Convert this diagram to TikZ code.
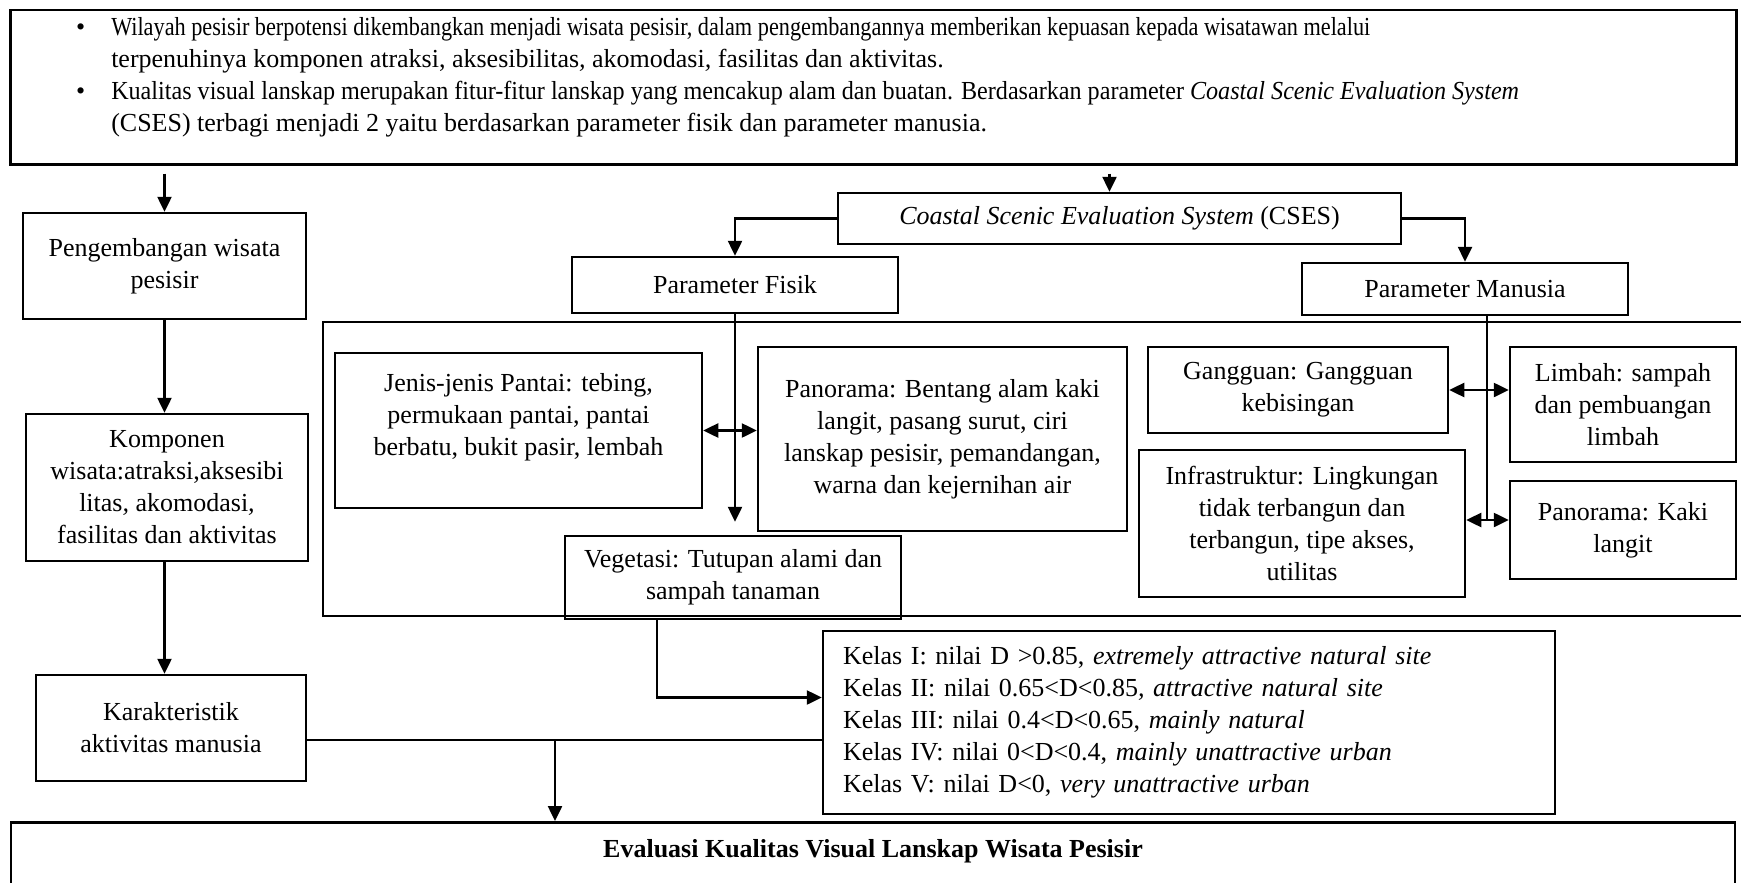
\documentclass[tikz,border=0pt]{standalone}
\usepackage{graphicx}
\usepackage{fontspec}
\setmainfont{Liberation Serif}
\usetikzlibrary{arrows.meta}

\tikzset{
  garis/.style={line width=2.5pt},
  kotak/.style={draw, garis, align=center, inner sep=0pt, font=\fontsize{26pt}{32pt}\selectfont},
  panah/.style={garis, -{Triangle[length=15pt,width=14pt]}},
  duapanah/.style={garis, {Triangle[length=15pt,width=14pt]}-{Triangle[length=15pt,width=14pt]}}
}

\begin{document}
\begin{tikzpicture}[x=1pt,y=-1pt]
  \useasboundingbox (0,0) rectangle (1741,883);

  % kotak latar belakang
  \node[kotak, anchor=north west, align=left, minimum width=1726pt, minimum height=154pt] (latar) at (9,9)
    {\begin{minipage}[t][140pt][t]{1726pt}
      \fontsize{26pt}{32pt}\selectfont\raggedright
      \begin{list}{\textbullet}{\setlength{\leftmargin}{91pt}\setlength{\labelwidth}{40pt}%
        \setlength{\labelsep}{26pt}\setlength{\rightmargin}{20pt}\setlength{\itemsep}{0pt}%
        \setlength{\topsep}{0pt}\setlength{\parsep}{0pt}\setlength{\partopsep}{0pt}}
      \item \scalebox{0.856}[1]{Wilayah pesisir berpotensi dikembangkan menjadi wisata pesisir, dalam pengembangannya memberikan kepuasan kepada wisatawan melalui}\\
        terpenuhinya komponen atraksi, aksesibilitas\textit{,} akomodasi\textit{,} fasilitas dan aktivitas.
      \item \scalebox{0.928}[1]{Kualitas visual lanskap merupakan fitur-fitur lanskap yang mencakup alam dan buatan. Berdasarkan parameter \textit{Coastal Scenic Evaluation System}}\\
        (CSES) terbagi menjadi 2 yaitu berdasarkan parameter fisik dan parameter manusia.
      \end{list}
    \end{minipage}};

  % kolom kiri
  \node[kotak, minimum width=283pt, minimum height=106pt] (pengembangan) at (164.5,266) {Pengembangan wisata\\pesisir};
  \node[kotak, minimum width=282pt, minimum height=147pt] (komponen) at (167,487.5) {Komponen\\wisata:atraksi,aksesibi\\litas\textit{,} akomodasi\textit{,}\\fasilitas dan aktivitas};
  \node[kotak, minimum width=270pt, minimum height=106pt] (karakteristik) at (171,728) {Karakteristik\\aktivitas manusia};

  % CSES
  \node[kotak, minimum width=563pt, minimum height=51pt] (cses) at (1119.5,218.5) {\textit{Coastal Scenic Evaluation System} (CSES)};
  \node[kotak, minimum width=326pt, minimum height=56pt] (fisik) at (735,285) {Parameter Fisik};
  \node[kotak, minimum width=326pt, minimum height=52pt] (manusia) at (1465,289) {Parameter Manusia};

  \draw[garis] (323,322) rectangle (1760,616); % kotak besar

  % parameter fisik
  \node[kotak, minimum width=367pt, minimum height=155pt] (jenis) at (518.5,430.5) {Jenis-jenis Pantai: tebing,\\permukaan pantai, pantai\\berbatu, bukit pasir, lembah\\\mbox{}};
  \node[kotak, minimum width=369pt, minimum height=184pt] (panorama) at (942.5,439) {Panorama: Bentang alam kaki\\langit, pasang surut, ciri\\lanskap pesisir, pemandangan,\\warna dan kejernihan air};
  \node[kotak, minimum width=336pt, minimum height=83pt] (vegetasi) at (733,577.5) {Vegetasi: Tutupan alami dan\\sampah tanaman};

  % parameter manusia
  \node[kotak, minimum width=300pt, minimum height=86pt] (gangguan) at (1298,390) {Gangguan: Gangguan\\kebisingan};
  \node[kotak, minimum width=226pt, minimum height=115pt] (limbah) at (1623,404.5) {Limbah: sampah\\dan pembuangan\\limbah};
  \node[kotak, minimum width=326pt, minimum height=147pt] (infra) at (1302,523.5) {Infrastruktur: Lingkungan\\tidak terbangun dan\\terbangun, tipe akses,\\utilitas};
  \node[kotak, minimum width=226pt, minimum height=98pt] (kaki) at (1623,530) {Panorama: Kaki\\langit};

  % kelas
  \node[kotak, align=left, text width=692pt, inner xsep=20pt, minimum height=183pt] (kelas) at (1189,722.5)
    {Kelas I: nilai D >0.85, \textit{extremely attractive natural site}\\
     Kelas II: nilai 0.65<D<0.85\textit{, attractive natural site}\\
     Kelas III: nilai 0.4<D<0.65, \textit{mainly natural}\\
     Kelas IV: nilai 0<D<0.4, \textit{mainly unattractive urban}\\
     Kelas V: nilai D<0, \textit{very unattractive urban}};

  \node[kotak, anchor=north, minimum width=1724pt, minimum height=80pt, text depth=28pt, font=\fontsize{26pt}{32pt}\selectfont\bfseries] (evaluasi) at (873,821)
    {Evaluasi Kualitas Visual Lanskap Wisata Pesisir};

  \coordinate (tengah) at (1487,520);
  \coordinate (simpang) at (555,740);

  % panah
  \draw[panah, shorten <=8pt] (latar.south -| pengembangan.north) -- (pengembangan.north);
  \draw[panah, shorten <=8pt] ([xshift=-10pt]latar.south -| cses.north) -- ([xshift=-10pt]cses.north);
  \draw[panah] (pengembangan.south) -- (pengembangan.south |- komponen.north);
  \draw[panah] (komponen.south -| pengembangan.south) -- (pengembangan.south |- karakteristik.north);
  \draw[panah] (cses.west) -| (fisik.north);
  \draw[panah] (cses.east) -| (manusia.north);
  \draw[panah, shorten >=13pt] (fisik.south) -- (fisik.south |- vegetasi.north);
  \draw[duapanah] (jenis.east) -- (jenis.east -| panorama.west);
  \draw[garis] (manusia.south -| tengah) -- (tengah);
  \draw[duapanah] (gangguan.east) -- (gangguan.east -| limbah.west);
  \draw[duapanah] (infra.east |- tengah) -- (kaki.west |- tengah);
  \draw[panah] ([xshift=-76pt]vegetasi.south) |- ([yshift=25pt]kelas.west);
  \draw[garis] ([yshift=-12pt]karakteristik.east) -- ([yshift=-12pt]karakteristik.east -| kelas.west);
  \draw[panah] (simpang) -- (simpang |- evaluasi.north);
\end{tikzpicture}
\end{document}
